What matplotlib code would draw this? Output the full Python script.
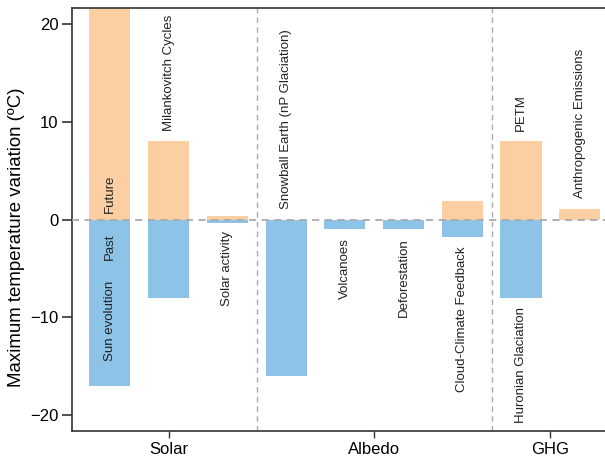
import matplotlib
matplotlib.use("Agg")
import matplotlib.pyplot as plt
import numpy as np

plt.rcParams['font.family'] = ['Liberation Sans', 'DejaVu Sans']

# Drivers of maximum temperature variation, grouped by mechanism
drivers = ["Sun evolution", "Milankovitch Cycles", "Solar activity",
           "Snowball Earth (nP Glaciation)", "Volcanoes", "Deforestation",
           "Cloud-Climate Feedback", "Huronian Glaciation", "Anthropogenic Emissions"]
warming = [25.0, 8.0, 0.4, 0.0, 0.0, 0.0, 1.9, 8.0, 1.1]
cooling = [-17.0, -8.0, -0.3, -16.0, -1.0, -1.0, -1.8, -8.0, 0.0]
# label placed above (warming) or below (cooling) each bar
upper_labels = ["", "Milankovitch Cycles", "", "Snowball Earth (nP Glaciation)",
                "", "", "", "PETM", "Anthropogenic Emissions"]
lower_labels = ["", "", "Solar activity", "", "Volcanoes", "Deforestation",
                "Cloud-Climate Feedback", "Huronian Glaciation", ""]
groups = ["Solar", "Albedo", "GHG"]
group_centers = [1.0, 4.5, 7.5]
group_bounds = [2.5, 6.5]
yticks = [-20, -10, 0, 10, 20]

orange = "#FCCFA2"
blue = "#8EC3E8"
spine_col = "#333333"
text_col = "#222222"
fs_lab = 9.5

fig = plt.figure(figsize=(6.05, 4.58), dpi=100)
ax = fig.add_axes([0.1195, 0.059, 0.8805, 0.923])

x = np.arange(len(drivers))
ax.bar(x, warming, width=0.7, color=orange, zorder=2)
ax.bar(x, cooling, width=0.7, color=blue, zorder=2)

ax.axhline(0, color="#AAAAAA", ls=(0, (4, 3)), lw=1.3, zorder=3)
for b in group_bounds:
    ax.axvline(b, color="#AAAAAA", ls=(0, (4, 3)), lw=1.0, zorder=1)

for xi, lab, v in zip(x, upper_labels, warming):
    if lab:
        ax.text(xi, v + 1.1, lab, rotation=90, ha="center", va="bottom",
                fontsize=fs_lab, color=text_col, zorder=4)
for xi, lab, v in zip(x, lower_labels, cooling):
    if lab:
        ax.text(xi, v - 0.9, lab, rotation=90, ha="center", va="top",
                fontsize=fs_lab, color=text_col, zorder=4)

# annotations inside the Sun evolution bar
ax.text(0, 0.7, "Future", rotation=90, ha="center", va="bottom", fontsize=fs_lab,
        color=text_col, zorder=4)
ax.text(0, -1.4, "Past", rotation=90, ha="center", va="top", fontsize=fs_lab,
        color=text_col, zorder=4)
ax.text(0, -6.2, "Sun evolution", rotation=90, ha="center", va="top", fontsize=fs_lab,
        color=text_col, zorder=4)

ax.set_xlim(-0.64, 8.43)
ax.set_ylim(-21.6, 21.6)
ax.set_yticks(yticks)
ax.set_yticklabels([f"{t}".replace("-", "\u2212") for t in yticks], fontsize=12)
ax.set_xticks(group_centers)
ax.set_xticklabels(groups, fontsize=12)
ax.tick_params(axis="y", direction="out", length=7, width=1.2, color=spine_col, pad=3)
ax.tick_params(axis="x", direction="out", length=5, width=1.0, color=spine_col, pad=3)
ax.set_ylabel("Maximum temperature variation (\u00baC)", fontsize=13.4)
ax.yaxis.set_label_coords(-0.088, 0.459)

for s in ["left", "bottom", "top"]:
    ax.spines[s].set_color(spine_col)
    ax.spines[s].set_linewidth(1.2)
ax.spines["right"].set_visible(False)

fig.savefig("out.png", dpi=100)
